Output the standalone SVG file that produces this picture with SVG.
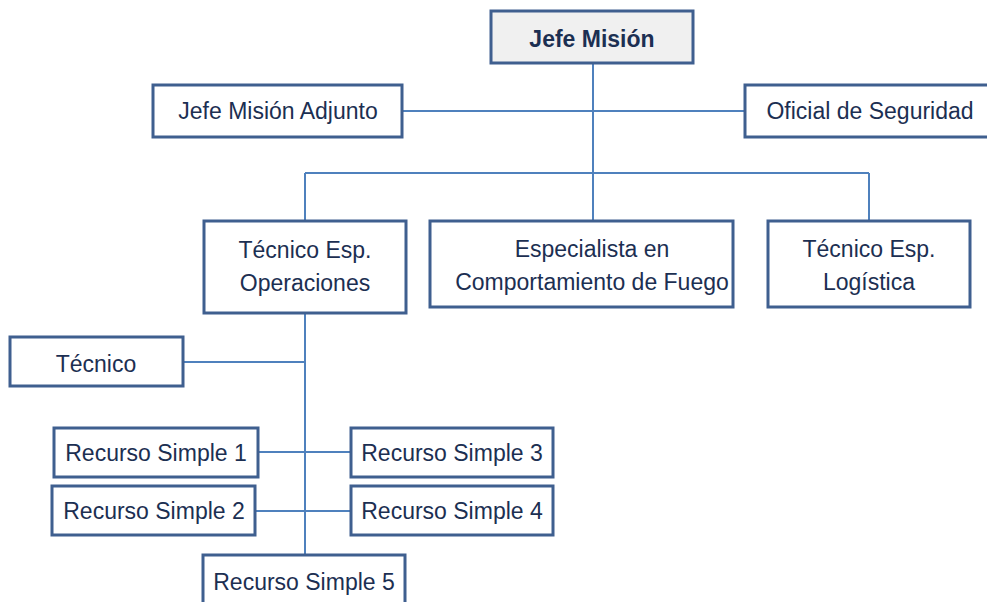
<svg xmlns="http://www.w3.org/2000/svg" width="987" height="602" viewBox="0 0 987 602">
<style>
.box{fill:#ffffff;stroke:#3f5f8f;stroke-width:3}
.top{fill:#f0f0f0;stroke:#3f5f8f;stroke-width:3}
.ln{stroke:#4f81bd;stroke-width:2;fill:none}
text{font-family:"Liberation Sans",Arial,sans-serif;font-size:23px;fill:#1c2f52;text-anchor:middle}
.b{font-weight:bold}
</style>
<rect width="987" height="602" fill="#ffffff"/>
<g id="connectors">
<line class="ln" x1="593" y1="63" x2="593" y2="221"/>
<line class="ln" x1="402" y1="111" x2="745" y2="111"/>
<line class="ln" x1="305" y1="173" x2="869" y2="173"/>
<line class="ln" x1="305" y1="173" x2="305" y2="221"/>
<line class="ln" x1="869" y1="173" x2="869" y2="221"/>
<line class="ln" x1="305" y1="313" x2="305" y2="555"/>
<line class="ln" x1="183" y1="362" x2="305" y2="362"/>
<line class="ln" x1="258" y1="452" x2="351" y2="452"/>
<line class="ln" x1="255" y1="511" x2="351" y2="511"/>
</g>
<g id="jefe-mision"><rect class="top" x="491" y="11" width="202" height="52"/><text class="b" x="592" y="47">Jefe Misión</text></g>
<g id="jefe-adjunto"><rect class="box" x="153" y="85" width="249" height="52"/><text x="278" y="119">Jefe Misión Adjunto</text></g>
<g id="oficial-seguridad"><rect class="box" x="745" y="85" width="260" height="52"/><text x="870" y="119">Oficial de Seguridad</text></g>
<g id="tec-operaciones"><rect class="box" x="204" y="221" width="202" height="92"/><text x="305" y="258">Técnico Esp.</text><text x="305" y="291">Operaciones</text></g>
<g id="especialista"><rect class="box" x="430" y="221" width="303" height="86"/><text x="592" y="257">Especialista en</text><text x="592" y="290">Comportamiento de Fuego</text></g>
<g id="tec-logistica"><rect class="box" x="768" y="221" width="202" height="86"/><text x="869" y="257">Técnico Esp.</text><text x="869" y="290">Logística</text></g>
<g id="tecnico"><rect class="box" x="10" y="337" width="173" height="49"/><text x="96" y="372">Técnico</text></g>
<g id="recurso1"><rect class="box" x="54" y="428" width="204" height="49"/><text x="156" y="461">Recurso Simple 1</text></g>
<g id="recurso3"><rect class="box" x="351" y="428" width="202" height="49"/><text x="452" y="461">Recurso Simple 3</text></g>
<g id="recurso2"><rect class="box" x="52" y="486" width="203" height="49"/><text x="154" y="519">Recurso Simple 2</text></g>
<g id="recurso4"><rect class="box" x="351" y="486" width="202" height="49"/><text x="452" y="519">Recurso Simple 4</text></g>
<g id="recurso5"><rect class="box" x="203" y="555" width="202" height="60"/><text x="304" y="590">Recurso Simple 5</text></g>
</svg>
